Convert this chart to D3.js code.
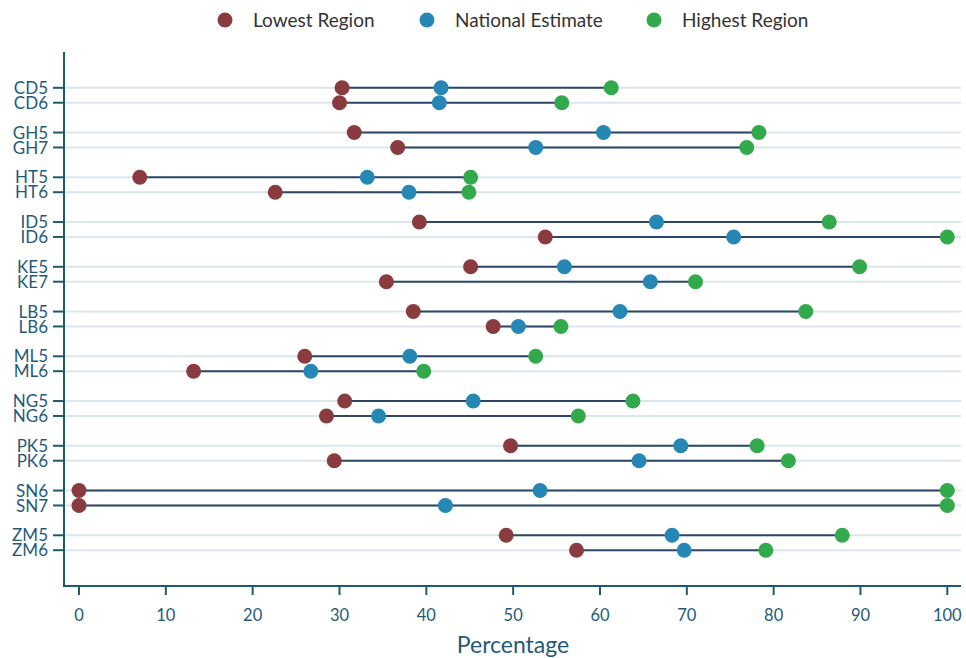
<!DOCTYPE html>
<html><head><meta charset="utf-8">
<script src="https://cdn.jsdelivr.net/npm/d3@7"></script>
<style>body{margin:0;background:#fff;} svg{display:block;}</style>
</head><body>
<svg id="chart" width="966" height="658"></svg>
<script>
const groups = ["CD","GH","HT","ID","KE","LB","ML","NG","PK","SN","ZM"];
const categories = ["CD5","CD6","GH5","GH7","HT5","HT6","ID5","ID6","KE5","KE7","LB5","LB6","ML5","ML6","NG5","NG6","PK5","PK6","SN6","SN7","ZM5","ZM6"];
const lowest =   [30.3,30.0,31.7,36.7, 7.0,22.6,39.2,53.7,45.1,35.4,38.5,47.7,26.0,13.2,30.6,28.5,49.7,29.4, 0.0, 0.0,49.2,57.3];
const national = [41.7,41.5,60.4,52.6,33.2,38.0,66.5,75.4,55.9,65.8,62.3,50.6,38.1,26.7,45.4,34.5,69.3,64.5,53.1,42.2,68.3,69.7];
const highest =  [61.3,55.6,78.3,76.9,45.1,44.9,86.4,100.0,89.9,71.0,83.7,55.5,52.6,39.7,63.8,57.5,78.1,81.7,100.0,100.0,87.9,79.1];
const xTicks = [0,10,20,30,40,50,60,70,80,90,100];
const seriesNames = ["Lowest Region","National Estimate","Highest Region"];
const seriesColors = ["#8a3b40","#2687b5","#32a94a"];

(function(){
const svg = d3.select("#chart");
const font = "Lato, 'Open Sans', sans-serif";
const mL = 64, mR = 961, mT = 52, mB = 586;

const x = d3.scaleLinear().domain([0,100]).range([79, 947.3]);
const slot = i => Math.floor(i/2)*3 + (i%2);
const y = d3.scaleLinear().domain([-2.4, 33.4]).range([mT, mB]);

const rows = categories.map((c,i)=>({c, i, lo: lowest[i], na: national[i], hi: highest[i], yy: y(slot(i))}));

svg.append("g").selectAll("line").data(rows).join("line")
  .attr("x1", mL).attr("x2", mR)
  .attr("y1", d=>d.yy).attr("y2", d=>d.yy)
  .attr("stroke", "#dce6ec").attr("stroke-width", 2);

const yAxis = svg.append("g");
yAxis.append("line").attr("x1", mL).attr("x2", mL).attr("y1", mT).attr("y2", mB+1)
  .attr("stroke","#1e5c6b").attr("stroke-width",2);
yAxis.selectAll("line.t").data(rows).join("line").attr("class","t")
  .attr("x1", 53).attr("x2", mL).attr("y1", d=>d.yy).attr("y2", d=>d.yy)
  .attr("stroke","#1e5c6b").attr("stroke-width",2);
yAxis.selectAll("text").data(rows).join("text")
  .attr("x", 48).attr("y", d=>d.yy).attr("dy","0.36em")
  .attr("text-anchor","end").attr("font-family",font).attr("font-size",17)
  .attr("fill","#1f5a78").text(d=>d.c);

const xAxis = svg.append("g");
xAxis.append("line").attr("x1", mL-1).attr("x2", mR).attr("y1", mB).attr("y2", mB)
  .attr("stroke","#1e5c6b").attr("stroke-width",2);
xAxis.selectAll("line.t").data(xTicks).join("line").attr("class","t")
  .attr("x1", d=>x(d)).attr("x2", d=>x(d)).attr("y1", mB).attr("y2", mB+9)
  .attr("stroke","#1e5c6b").attr("stroke-width",2);
xAxis.selectAll("text").data(xTicks).join("text")
  .attr("x", d=>x(d)).attr("y", 615).attr("dy","0.35em")
  .attr("text-anchor","middle").attr("font-family",font).attr("font-size",16.5)
  .attr("fill","#1f5a78").text(d=>d);
svg.append("text").attr("x", 513).attr("y", 645).attr("dy","0.35em")
  .attr("text-anchor","middle").attr("font-family",font).attr("font-size",23)
  .attr("fill","#1f5a78").text("Percentage");

svg.append("g").selectAll("line").data(rows).join("line")
  .attr("x1", d=>x(d.lo)).attr("x2", d=>x(d.hi))
  .attr("y1", d=>d.yy).attr("y2", d=>d.yy)
  .attr("stroke","#2b4768").attr("stroke-width",2);

const keys = ["lo","na","hi"];
keys.forEach((k,j)=>{
  svg.append("g").selectAll("circle").data(rows).join("circle")
    .attr("cx", d=>x(d[k])).attr("cy", d=>d.yy).attr("r", 7.5)
    .attr("fill", seriesColors[j]);
});

const legX = [225, 427, 654];
const leg = svg.append("g");
seriesNames.forEach((n,j)=>{
  leg.append("circle").attr("cx", legX[j]).attr("cy", 20).attr("r", 7.5).attr("fill", seriesColors[j]);
  leg.append("text").attr("x", legX[j]+28).attr("y", 20).attr("dy","0.35em")
    .attr("font-family",font).attr("font-size",19).attr("fill","#333").text(n);
});
})();
</script>
</body></html>
